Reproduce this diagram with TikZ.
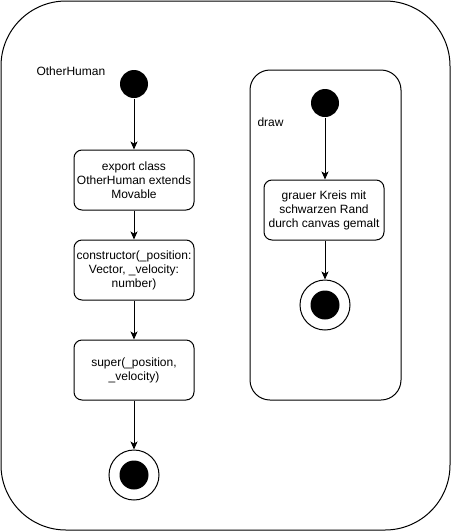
\documentclass[tikz,border=0pt]{standalone}
\usepackage{fontspec}
\setmainfont{Liberation Sans}
\usepackage{tikz}
\usetikzlibrary{shapes, arrows.meta, positioning, calc}
\definecolor{StateLine}{HTML}{000000}

\begin{document}
\begin{tikzpicture}[x=1pt, y=-1pt, line width=1pt,
    font=\fontsize{12}{14}\selectfont,
    actbox/.style={draw=StateLine, rounded corners=8pt, minimum width=120pt, minimum height=60pt, inner sep=1pt, align=center},
    startdot/.style={circle, fill=StateLine, minimum size=28pt, inner sep=0pt},
    enddot/.style={circle, draw=StateLine, fill=white, minimum size=50pt, inner sep=0pt},
    flow/.style={-{Stealth[length=8pt, width=7pt, inset=2pt]}}]
  \useasboundingbox (0,0) rectangle (451,531);
  % Outer frame
  \draw[rounded corners=65pt] (1,1) rectangle (450,530);
  \node[right, inner sep=0pt] (lblOther) at (36,71) {OtherHuman};
  % Left flow
  \node[startdot] (startL) at (134,84) {};
  \node[actbox] (exportBox) at (134,180) {export class\\OtherHuman extends\\Movable};
  \node[actbox] (ctorBox) at (134,270) {constructor(\_position:\\Vector, \_velocity:\\number)};
  \node[actbox] (superBox) at (134,370) {super(\_position,\\\_velocity)};
  \node[enddot] (endL) at (134,475) {};
  \fill[StateLine] (endL) circle (14.5pt);
  \draw[flow] (startL) -- (exportBox);
  \draw[flow] (exportBox) -- (ctorBox);
  \draw[flow] (ctorBox) -- (superBox);
  \draw[flow] (superBox) -- (endL);
  % Draw container
  \draw[rounded corners=20pt] (250,70) rectangle (401,400);
  \node[right, inner sep=0pt] (lblDraw) at (257,122) {draw};
  \node[startdot] (startR) at (325,103) {};
  \node[actbox] (circleBox) at (324,210) {grauer Kreis mit\\schwarzen Rand\\durch canvas gemalt};
  \node[enddot] (endR) at (325,305) {};
  \fill[StateLine] (endR) circle (14.5pt);
  \draw[flow] (startR) -- (startR |- circleBox.north);
  \draw[flow] (circleBox.south -| endR) -- (endR);
\end{tikzpicture}
\end{document}
